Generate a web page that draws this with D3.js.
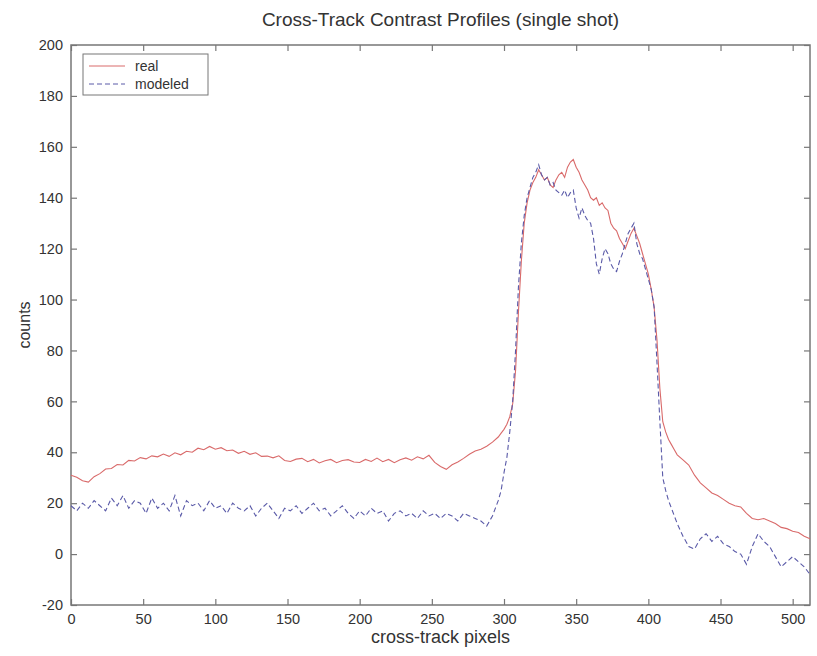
<!DOCTYPE html>
<html>
<head>
<meta charset="utf-8">
<script src="https://cdn.jsdelivr.net/npm/d3@7"></script>
<style>
  body { margin: 0; background: #fff; }
  text { font-family: "Liberation Sans", Arial, sans-serif; fill: #333; }
</style>
</head>
<body>
<div id="chart"></div>
<script>
// cross-track pixel index of each sample
const pixel = [].concat(d3.range(0, 297, 4), d3.range(298, 421, 2), d3.range(424, 513, 4));

// real profile (red, solid)
const realCounts = [
  31, 30.2, 28.8, 28.3, 30.4, 31.6, 33.4, 33.6, 35.2, 35.0,
  36.8, 36.6, 37.9, 37.4, 38.6, 38.2, 39.3, 38.4, 39.8, 39.0,
  40.4, 40.0, 41.6, 41.0, 42.3, 41.2, 41.8, 40.6, 40.9, 39.6,
  40.4, 39.2, 39.8, 38.4, 38.5, 37.8, 38.6, 36.8, 36.4, 37.3,
  37.6, 36.3, 37.2, 35.8, 36.7, 37.2, 35.9, 36.8, 37.1, 36.2,
  36.0, 37.2, 36.4, 37.7, 36.3, 37.2, 35.9, 37.1, 37.8, 36.9,
  38.2, 37.4, 38.8, 36.0, 34.4, 33.3, 35.1, 36.2, 37.6, 39.2,
  40.5, 41.2, 42.4, 44.0, 46.0,
  // 298..420 step 2
  47.5, 49, 51, 54, 59, 72, 95, 115, 130, 138,
  143, 146, 148, 151, 149, 147, 148, 145, 144, 147,
  149, 150, 148, 152, 154, 155, 152, 150, 147, 145,
  143, 140, 139, 140, 137, 138, 136, 135, 130, 128,
  127, 124, 122, 120, 123, 126, 128, 125, 122, 118,
  114, 110, 104, 97, 84, 65, 52, 48, 45, 43,
  41, 39,
  // 424..512 step 4
  37, 35, 31, 28, 26, 24, 23, 21.5, 20, 19,
  18.5, 16, 14, 13.5, 14, 13, 12, 10.5, 10, 9,
  8.5, 7, 6
];

// modeled profile (blue, dashed)
const modeledCounts = [
  19, 17, 20, 18, 21, 19, 17, 22, 19, 23,
  18, 21, 20, 16, 22, 18, 20, 17, 23, 15,
  21, 19, 20, 17, 21, 18, 19, 16, 20, 18,
  17, 19, 15, 18, 20, 17, 14, 18, 17, 19,
  16, 18, 20, 17, 18, 15, 17, 19, 16, 14,
  17, 15, 18, 16, 17, 13, 16, 17, 15, 16,
  14, 17, 15, 16, 14, 16, 15, 13, 16, 15,
  14, 13, 11, 15, 21,
  // 298..420 step 2
  25, 32, 38, 48, 60, 80, 105, 122, 133, 140,
  144, 148, 150, 153, 149, 147, 148, 145, 146, 143,
  142, 141, 143, 140, 142, 143, 136, 132, 136, 133,
  131, 130, 124, 114, 110, 116, 120, 118, 114, 112,
  111, 115, 118, 122, 126, 128, 130, 122, 118, 116,
  112, 108, 104, 97, 75, 52, 30, 25, 21, 18,
  15, 12,
  // 424..512 step 4
  7, 3, 2, 6, 8, 5, 7, 4, 3, 1,
  0, -4, 3, 8, 5, 3, -1, -5, -3, -1,
  -3, -5, -8
];

const xTicks = [0, 50, 100, 150, 200, 250, 300, 350, 400, 450, 500];
const yTicks = [-20, 0, 20, 40, 60, 80, 100, 120, 140, 160, 180, 200];
const seriesNames = ["real", "modeled"];

const width = 817, height = 656;
const margin = { top: 45, right: 7, bottom: 51, left: 71 };
const w = width - margin.left - margin.right;
const h = height - margin.top - margin.bottom;

const svg = d3.select("#chart").append("svg")
  .attr("width", width)
  .attr("height", height);

const g = svg.append("g")
  .attr("transform", `translate(${margin.left}, ${margin.top})`);

const x = d3.scaleLinear().domain([0, 512]).range([0, w]);
const y = d3.scaleLinear().domain([-20, 200]).range([h, 0]);

// axes with inward ticks on all four sides (matlab style)
const axisColor = "#777";
const plain = d => String(d); // plain hyphen for negatives
function styleAxis(sel) {
  sel.select(".domain").remove();
  sel.selectAll("line").attr("stroke", axisColor).attr("stroke-width", 1.2);
  sel.selectAll("text").style("font-size", "14.5px").attr("fill", "#444");
}
g.append("g").attr("transform", `translate(0, ${h})`)
  .call(d3.axisBottom(x).tickValues(xTicks).tickSize(-6).tickPadding(9).tickFormat(plain))
  .call(styleAxis);
g.append("g")
  .call(d3.axisTop(x).tickValues(xTicks).tickSize(-6).tickFormat(""))
  .call(styleAxis);
g.append("g")
  .call(d3.axisLeft(y).tickValues(yTicks).tickSize(-6).tickPadding(8).tickFormat(plain))
  .call(styleAxis);
g.append("g").attr("transform", `translate(${w}, 0)`)
  .call(d3.axisRight(y).tickValues(yTicks).tickSize(-6).tickFormat(""))
  .call(styleAxis);

g.append("rect")
  .attr("width", w).attr("height", h)
  .attr("fill", "none").attr("stroke", axisColor).attr("stroke-width", 1.5);

// lines
const line = d3.line().x((d, i) => x(pixel[i])).y(d => y(d));
g.append("path").datum(realCounts)
  .attr("d", line).attr("fill", "none")
  .attr("stroke", "#d96a6a").attr("stroke-width", 1.1);
g.append("path").datum(modeledCounts)
  .attr("d", line).attr("fill", "none")
  .attr("stroke", "#5a5aa8").attr("stroke-width", 1.1)
  .attr("stroke-dasharray", "5,3");

// legend
const legend = g.append("g").attr("transform", "translate(12, 9)");
legend.append("rect").attr("width", 125).attr("height", 41)
  .attr("fill", "#fff").attr("stroke", "#777");
seriesNames.forEach((name, i) => {
  const ly = 12 + i * 18;
  legend.append("line").attr("x1", 6).attr("x2", 42).attr("y1", ly).attr("y2", ly)
    .attr("stroke", i === 0 ? "#d96a6a" : "#5a5aa8")
    .attr("stroke-dasharray", i === 0 ? null : "5,3");
  legend.append("text").attr("x", 52).attr("y", ly + 5)
    .style("font-size", "14px").text(name);
});

// title and labels
svg.append("text").attr("x", margin.left + w / 2).attr("y", 26)
  .attr("text-anchor", "middle").style("font-size", "19px")
  .text("Cross-Track Contrast Profiles (single shot)");
svg.append("text").attr("x", margin.left + w / 2).attr("y", 643)
  .attr("text-anchor", "middle").style("font-size", "18px")
  .text("cross-track pixels");
svg.append("text")
  .attr("transform", `translate(30, ${margin.top + h / 2}) rotate(-90)`)
  .attr("text-anchor", "middle").style("font-size", "16px")
  .text("counts");
</script>
</body>
</html>
